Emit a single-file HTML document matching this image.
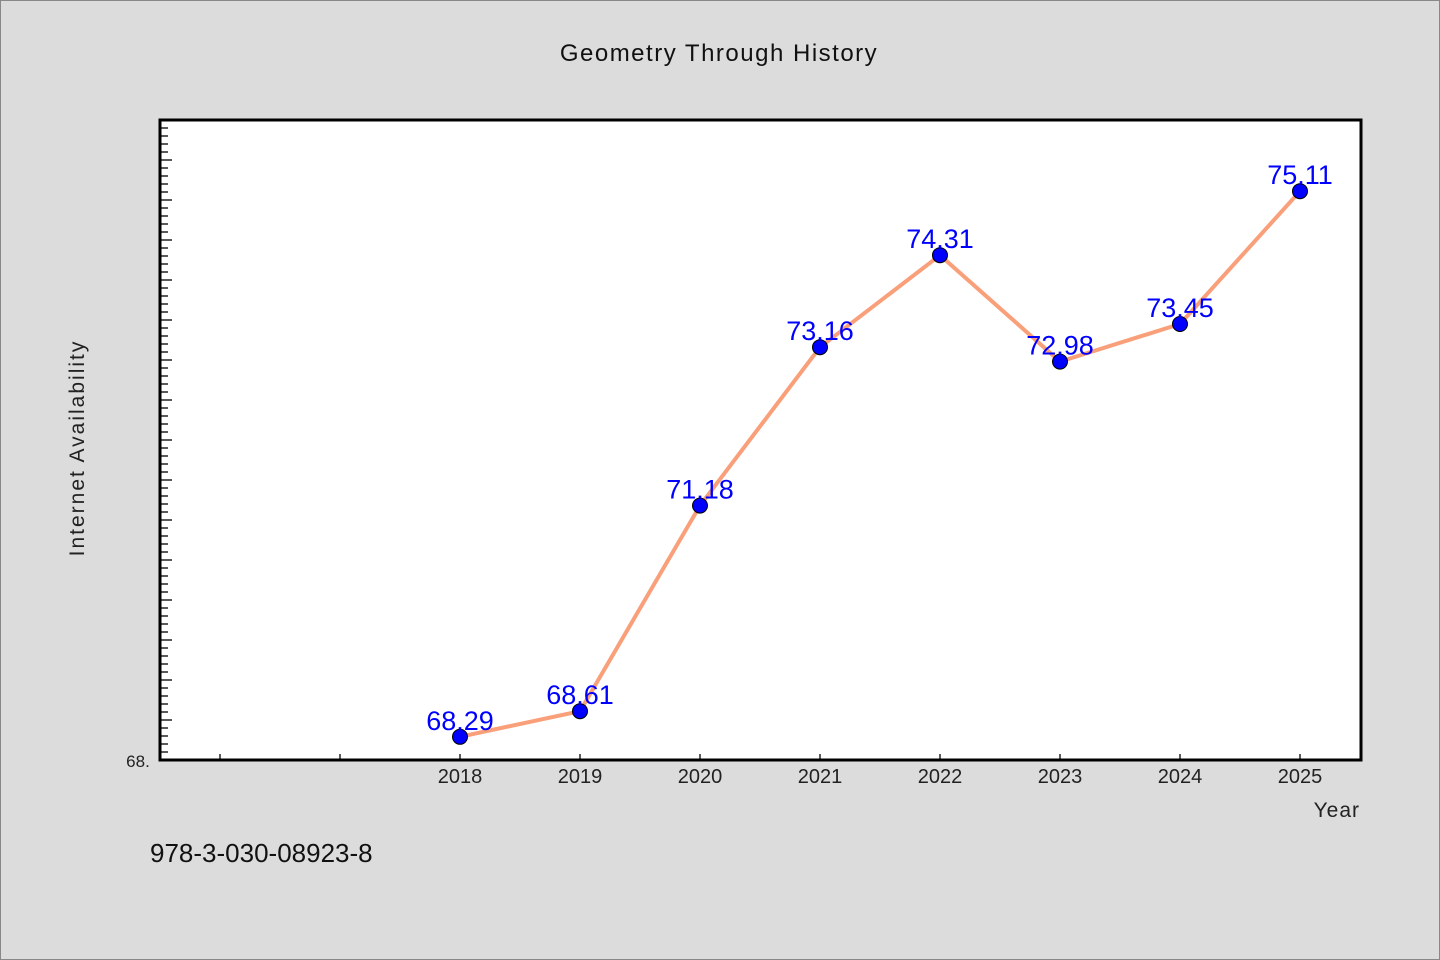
<!DOCTYPE html>
<html><head><meta charset="utf-8"><style>
html,body{margin:0;padding:0;background:#dcdcdc;}
svg{display:block;font-family:"WenQuanYi Zen Hei","Liberation Sans",sans-serif;}
</style></head><body>
<svg id="chart" width="1440" height="960" xmlns="http://www.w3.org/2000/svg">
<rect x="0.5" y="0.5" width="1439" height="959" fill="#dcdcdc" stroke="#888"/>
<text x="719" y="61" text-anchor="middle" font-size="24" letter-spacing="1.5" fill="#111">Geometry Through History</text>
<rect x="160" y="120" width="1201" height="640" fill="#fff"/>
<g id="yticks"></g><g id="xticks"></g>
<path d="M160,120 H1361 V760 H160 Z" fill="none" stroke="#000" stroke-width="3"/>
<g id="series"></g>
<text x="138" y="767" text-anchor="middle" font-size="17" fill="#222">68.</text>
<text transform="translate(84,448) rotate(-90)" text-anchor="middle" font-size="21" letter-spacing="2" fill="#222">Internet Availability</text>
<text x="1360" y="817" text-anchor="end" font-size="21" letter-spacing="1" fill="#222">Year</text>
<text x="150" y="862" font-size="26" fill="#111">978-3-030-08923-8</text>
</svg>
<script>
const years=[2018,2019,2020,2021,2022,2023,2024,2025];
const values=[68.29,68.61,71.18,73.16,74.31,72.98,73.45,75.11];
const labels=["68.29","68.61","71.18","73.16","74.31","72.98","73.45","75.11"];
const xTicks=[2016,2017,2018,2019,2020,2021,2022,2023,2024,2025];
const NS="http://www.w3.org/2000/svg";
const x=v=>460+(v-2018)*120;
const y=v=>760-(v-68)*80;
function mk(t,a,p){const e=document.createElementNS(NS,t);for(const k in a)e.setAttribute(k,a[k]);p.appendChild(e);return e;}
const yt=document.getElementById('yticks');
for(let i=1;i<80;i++){const yy=760-i*8;const len=(i%5===0)?12:8;
const l=mk('line',{x1:160,x2:160+len,y1:yy,y2:yy,stroke:'#000','stroke-width':1.3},yt);

}
const xt=document.getElementById('xticks');
xTicks.forEach(v=>{const l=mk('line',{x1:x(v),x2:x(v),y1:760,y2:754,stroke:'#000','stroke-width':1.3},xt);


if(v>=years[0]){const t=mk('text',{x:x(v),y:783,'text-anchor':'middle','font-size':20,fill:'#222'},xt);t.textContent=v;

}});
const s=document.getElementById('series');
const pl=mk('polyline',{points:years.map((v,i)=>x(v)+','+y(values[i])).join(' '),fill:'none',stroke:'#f9a07a','stroke-width':4,'stroke-linejoin':'round'},s);


years.forEach((v,i)=>{const c=mk('circle',{cx:x(v),cy:y(values[i]),r:7.5,fill:'#0000ff',stroke:'#000','stroke-width':1},s);


const t=mk('text',{x:x(v),y:y(values[i])-7,'text-anchor':'middle','font-size':27,fill:'#0000ff'},s);t.textContent=labels[i];

});
</script>
</body></html>
